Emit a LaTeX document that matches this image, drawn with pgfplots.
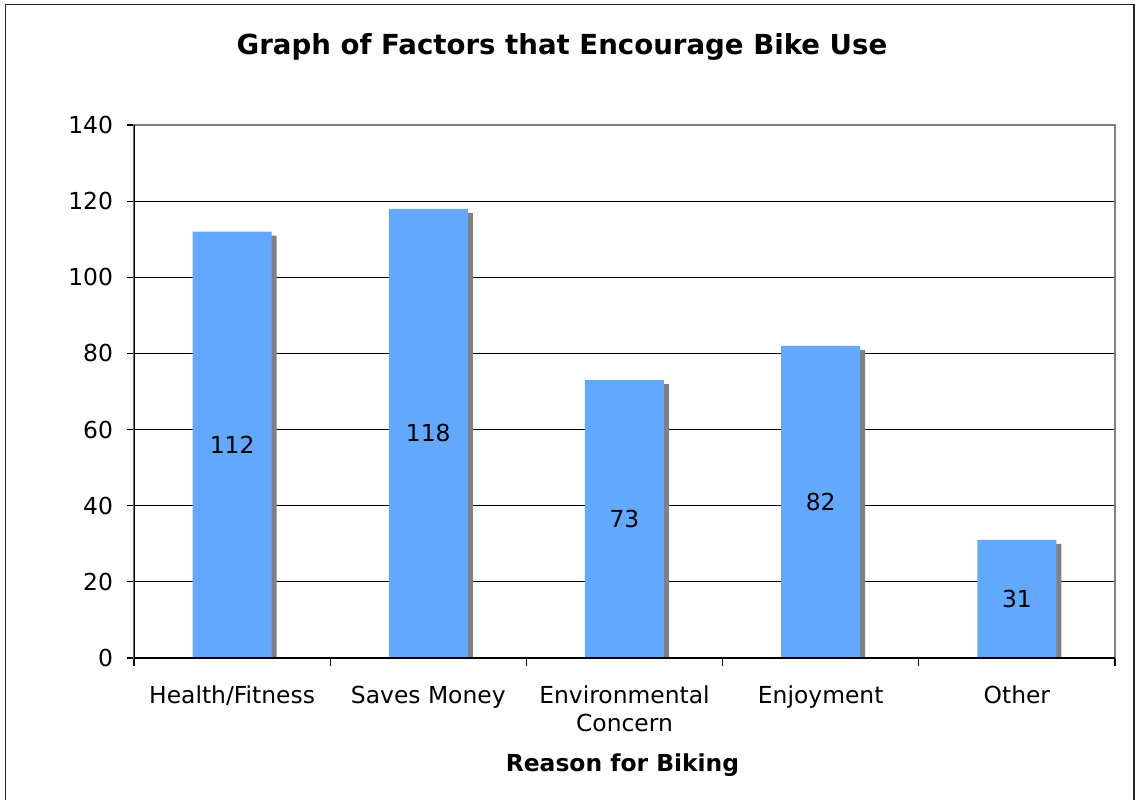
\documentclass[border=0pt]{standalone}
\usepackage{pgfplots}
\usepackage{pgfplotstable}
\usepackage{fontspec}
\setmainfont{DejaVu Sans}
\pgfplotsset{compat=1.18}
\definecolor{barblue}{RGB}{99,168,255}
\definecolor{shadowgray}{RGB}{128,128,128}
\pgfplotstableread{
x y
0 112
1 118
2 73
3 82
4 31
}\data
\begin{document}
\begin{tikzpicture}
\useasboundingbox (-67pt,-70.5pt) rectangle (501pt,329pt);
\draw[black!85, line width=0.75pt] (-64.25pt,-80pt) -- (-64.25pt,326.75pt) -- (500pt,326.75pt) -- (500pt,-80pt);
\begin{axis}[
  scale only axis,
  width=490.5pt, height=266.5pt,
  xmin=-0.5, xmax=4.5,
  ymin=0, ymax=140,
  ytick={0,20,...,140},
  xtick={0,1,2,3,4},
  xticklabels={Health/Fitness,Saves Money,{Environmental\\Concern},Enjoyment,Other},
  minor xtick={-0.5,0.5,1.5,2.5,3.5,4.5},
  major x tick style={draw=none},
  tick align=outside,
  xtick pos=lower, ytick pos=left,
  major tick length=3.5pt,
  minor tick length=4pt,
  tick style={black, line width=0.6pt},
  ymajorgrids,
  major grid style={black, line width=0.5pt},
  axis line style={shadowgray, line width=0.75pt},
  tick label style={font=\fontsize{11.7pt}{14pt}\selectfont},
  xticklabel style={align=center, yshift=-7pt},
  yticklabel style={xshift=-3.5pt},
  /pgf/number format/assume math mode=true,
  clip=true,
]
\addplot[ybar, bar width=39.5pt, bar shift=2.5pt, fill=shadowgray, draw=none]
  table[x=x, y expr=\thisrow{y}-1.05] {\data};
\addplot[ybar, bar width=39.5pt, bar shift=0pt, fill=barblue, draw=none]
  table[x=x, y=y] {\data};
\addplot[draw=none, mark=none, nodes near coords, point meta=explicit,
  every node near coord/.style={anchor=center, font=\fontsize{11.7pt}{14pt}\selectfont, black}]
  table[x=x, y expr=\thisrow{y}/2, meta=y] {\data};
\draw[black, line width=0.75pt] (rel axis cs:0,1) -- (rel axis cs:0,0) -- (rel axis cs:1,0);
\end{axis}
\node[font=\bfseries\fontsize{13.8pt}{16pt}\selectfont] at (214pt,305.5pt) {Graph of Factors that Encourage Bike Use};
\node[font=\bfseries\fontsize{11.7pt}{14pt}\selectfont] at (244.25pt,-53.5pt) {Reason for Biking};
\end{tikzpicture}
\end{document}
